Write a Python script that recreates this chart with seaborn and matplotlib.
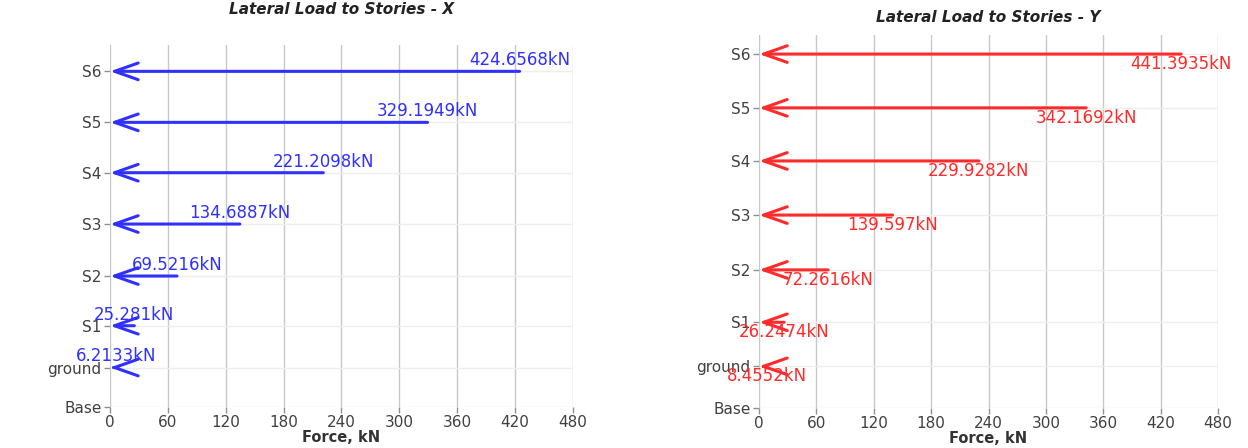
import matplotlib
matplotlib.use("Agg")
import matplotlib.pyplot as plt
import seaborn as sns
import pandas as pd

# ---------- data ----------
stories = ["Base", "ground", "S1", "S2", "S3", "S4", "S5", "S6"]
elevation = [0, 1.2, 2.47, 3.98, 5.56, 7.12, 8.65, 10.2]

# story forces (no force at Base)
force_x = [None, 6.2133, 25.281, 69.5216, 134.6887, 221.2098, 329.1949, 424.6568]
force_y = [None, 8.4552, 26.2474, 72.2616, 139.597, 229.9282, 342.1692, 441.3935]

xticks = [0, 60, 120, 180, 240, 300, 360, 420, 480]

df = pd.DataFrame({"story": stories, "elev": elevation, "fx": force_x, "fy": force_y})

# ---------- style ----------
sns.set_theme(style="whitegrid")
plt.rcParams["font.family"] = ["DejaVu Sans"]

fig = plt.figure(figsize=(12.48, 4.48), dpi=100)
ax1 = fig.add_axes([0.0881, 0.0915, 0.371, 0.808])
ax2 = fig.add_axes([0.6082, 0.0893, 0.3678, 0.8326])


def fmt(v):
    # 4 decimals, trailing zeros dropped
    return f"{v:.4f}".rstrip("0").rstrip(".") + "kN"


def draw_panel(ax, col, color, title, above, ytop, title_pad):
    sub = df.dropna(subset=[col])
    for _, r in sub.iterrows():
        ax.annotate("", xy=(0, r["elev"]), xytext=(r[col], r["elev"]),
                    arrowprops=dict(arrowstyle="->,head_length=1.7,head_width=0.6",
                                    color=color, lw=2.2, shrinkA=0, shrinkB=0,
                                    mutation_scale=10))
        ax.annotate(fmt(r[col]), xy=(r[col], r["elev"]),
                    xytext=(0, 1.5 if above else -0.5), textcoords="offset points",
                    ha="center", va="bottom" if above else "top",
                    color=color, fontsize=12, annotation_clip=False)

    ax.set_xlim(0, 480)
    ax.set_ylim(0, ytop)
    ax.set_xticks(xticks)
    ax.set_yticks(df["elev"])
    ax.set_yticklabels(df["story"])
    ax.tick_params(axis="both", left=True, bottom=True, direction="out",
                   length=4, width=1, color="#909090",
                   labelcolor="#404040", labelsize=11, pad=2)
    ax.grid(axis="x", color="#c8c8c8", lw=1)
    ax.grid(axis="y", color="#eeeeee", lw=1)
    sns.despine(ax=ax, left=True, bottom=True)
    ax.set_title(title, fontsize=11, fontweight="bold", fontstyle="italic",
                 color="#222222", pad=title_pad)
    ax.set_xlabel("Force, kN", fontsize=10.5, fontweight="bold", color="#333333",
                  labelpad=0)
    ax.set_ylabel("")


draw_panel(ax1, "fx", "#3030ff", "Lateral Load to Stories - X", True, 11.0, 22)
draw_panel(ax2, "fy", "#ff2a2a", "Lateral Load to Stories - Y", False, 10.75, 9)

fig.savefig("out.png", dpi=100)
